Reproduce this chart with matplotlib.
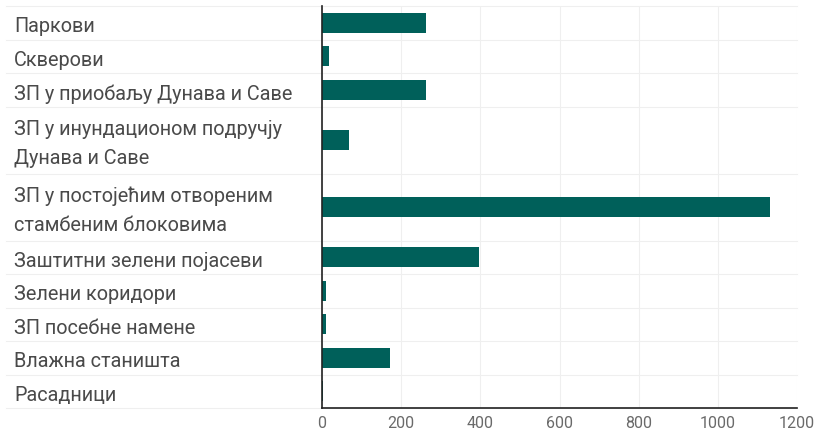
import numpy as np
import matplotlib.pyplot as plt
from matplotlib.transforms import blended_transform_factory, ScaledTranslation

plt.rcParams['font.family'] = ['Roboto', 'DejaVu Sans']

labels = ['Паркови', 'Скверови', 'ЗП у приобаљу Дунава и Саве',
          'ЗП у инундационом подручју\nДунава и Саве',
          'ЗП у постојећим отвореним\nстамбеним блоковима',
          'Заштитни зелени појасеви', 'Зелени коридори', 'ЗП посебне намене',
          'Влажна станишта', 'Расадници']
values = [263, 17, 263, 69, 1132, 396, 10, 10, 172, 2]
row_units = [1, 1, 1, 2, 2, 1, 1, 1, 1, 1]
ticks = [0, 200, 400, 600, 800, 1000, 1200]

bounds = np.concatenate([[0], np.cumsum(row_units)])
centers = (bounds[:-1] + bounds[1:]) / 2

W, H = 814, 432
fig = plt.figure(figsize=(W / 100, H / 100), dpi=100)
ax = fig.add_axes([322 / W, 24 / H, 475 / W, 402 / H])

ax.barh(centers, values, height=0.6, color='#00605a', zorder=3)
ax.set_ylim(bounds[-1], 0)
ax.set_xlim(0, 1200)
ax.set_xticks(ticks)
ax.set_yticks([])
ax.tick_params(axis='x', length=0, pad=6, labelsize=11.5, labelcolor='#6a6a6a')

for s in ['top', 'right']:
    ax.spines[s].set_visible(False)
for s in ['left', 'bottom']:
    ax.spines[s].set_color('#222222')
    ax.spines[s].set_linewidth(1.2)
    ax.spines[s].set_zorder(4)

ax.grid(axis='x', color='#efefef', linewidth=0.8, zorder=0)

# row separators running under the labels too
tr = blended_transform_factory(fig.transFigure, ax.transData)
for b in bounds:
    ax.plot([6 / W, 797 / W], [b, b], transform=tr, color='#efefef',
            linewidth=0.8, clip_on=False, zorder=0)

# labels sit a few pixels below the row centre in the original
shift = tr + ScaledTranslation(0, -4 / 100, fig.dpi_scale_trans)
for c, lab in zip(centers, labels):
    ax.text(14 / W, c, lab, transform=shift, ha='left', va='center',
            fontsize=14.3, color='#4a4a4a', linespacing=1.65)

fig.savefig('out.png', dpi=100)
